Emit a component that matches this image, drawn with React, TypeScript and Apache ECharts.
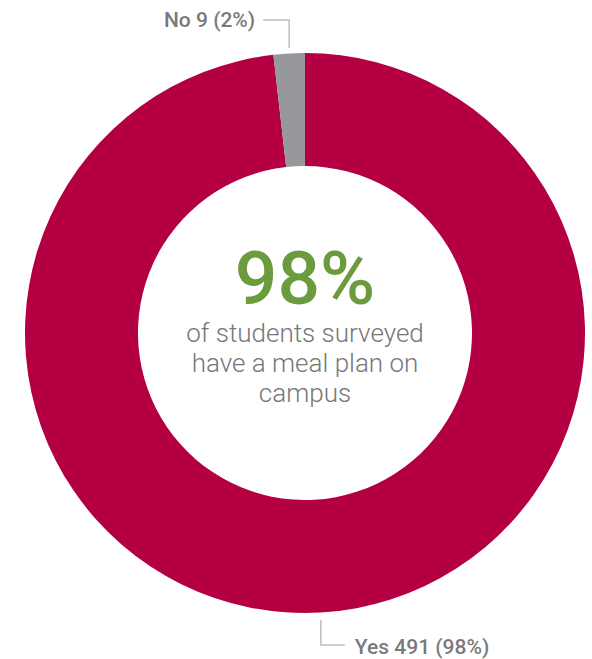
import React, { useEffect, useRef } from "react";
import * as echarts from "echarts";

const categories = ["Yes", "No"];
const counts = [491, 9];
const percents = [98, 2];
const colors = ["#B40042", "#96989B"];
const headline = "98%";
const subtitle = ["of students surveyed", "have a meal plan on", "campus"];

export default function App() {
  const ref = useRef<HTMLDivElement>(null);
  useEffect(() => {
    document.body.style.margin = "0";
    const chart = echarts.init(ref.current!, null, { renderer: "svg" });
    const data = categories.map((c, i) => ({
      name: c,
      value: counts[i],
      itemStyle: { color: colors[i] },
    }));
    chart.setOption({
      animation: false,
      backgroundColor: "#ffffff",
      series: [
        {
          type: "pie",
          center: [305, 333],
          radius: [167, 280],
          startAngle: 90,
          clockwise: true,
          data,
          label: {
            show: true,
            position: "outside",
            formatter: (p: any) => `${p.name} ${p.value} (${percents[p.dataIndex]}%)`,
            fontFamily: "Roboto",
            fontWeight: 500,
            fontSize: 21,
            color: "#7a7a7a",
          },
          labelLine: {
            show: true,
            lineStyle: { color: "#bdbdbd", width: 1.5 },
          },
          labelLayout: (params: any) => {
            const p0 = params.labelLinePoints
              ? params.labelLinePoints[0]
              : [305, 333];
            if (params.dataIndex === 1) {
              const x = p0[0];
              return {
                x: x - 34,
                y: 20,
                align: "right",
                verticalAlign: "middle",
                labelLinePoints: [
                  [x, 48],
                  [x, 20],
                  [x - 26, 20],
                ],
              };
            }
            const x = p0[0];
            return {
              x: x + 34,
              y: 647,
              align: "left",
              verticalAlign: "middle",
              labelLinePoints: [
                [x, 620],
                [x, 645],
                [x + 24, 645],
              ],
            };
          },
        },
      ],
      graphic: [
        {
          type: "text",
          x: 305,
          y: 278,
          style: {
            text: headline,
            fontFamily: "Roboto",
            fontWeight: 500,
            fontSize: 75,
            fill: "#6A9C3E",
            align: "center",
            verticalAlign: "middle",
          },
        },
        ...subtitle.map((t, i) => ({
          type: "text",
          x: 305,
          y: 333 + i * 30,
          style: {
            text: t,
            fontFamily: "Roboto",
            fontWeight: 300,
            fontSize: 26,
            fill: "#777777",
            align: "center",
            verticalAlign: "middle",
          },
        })),
      ],
    });
    return () => chart.dispose();
  }, []);
  return <div ref={ref} style={{ width: 592, height: 659 }} />;
}
